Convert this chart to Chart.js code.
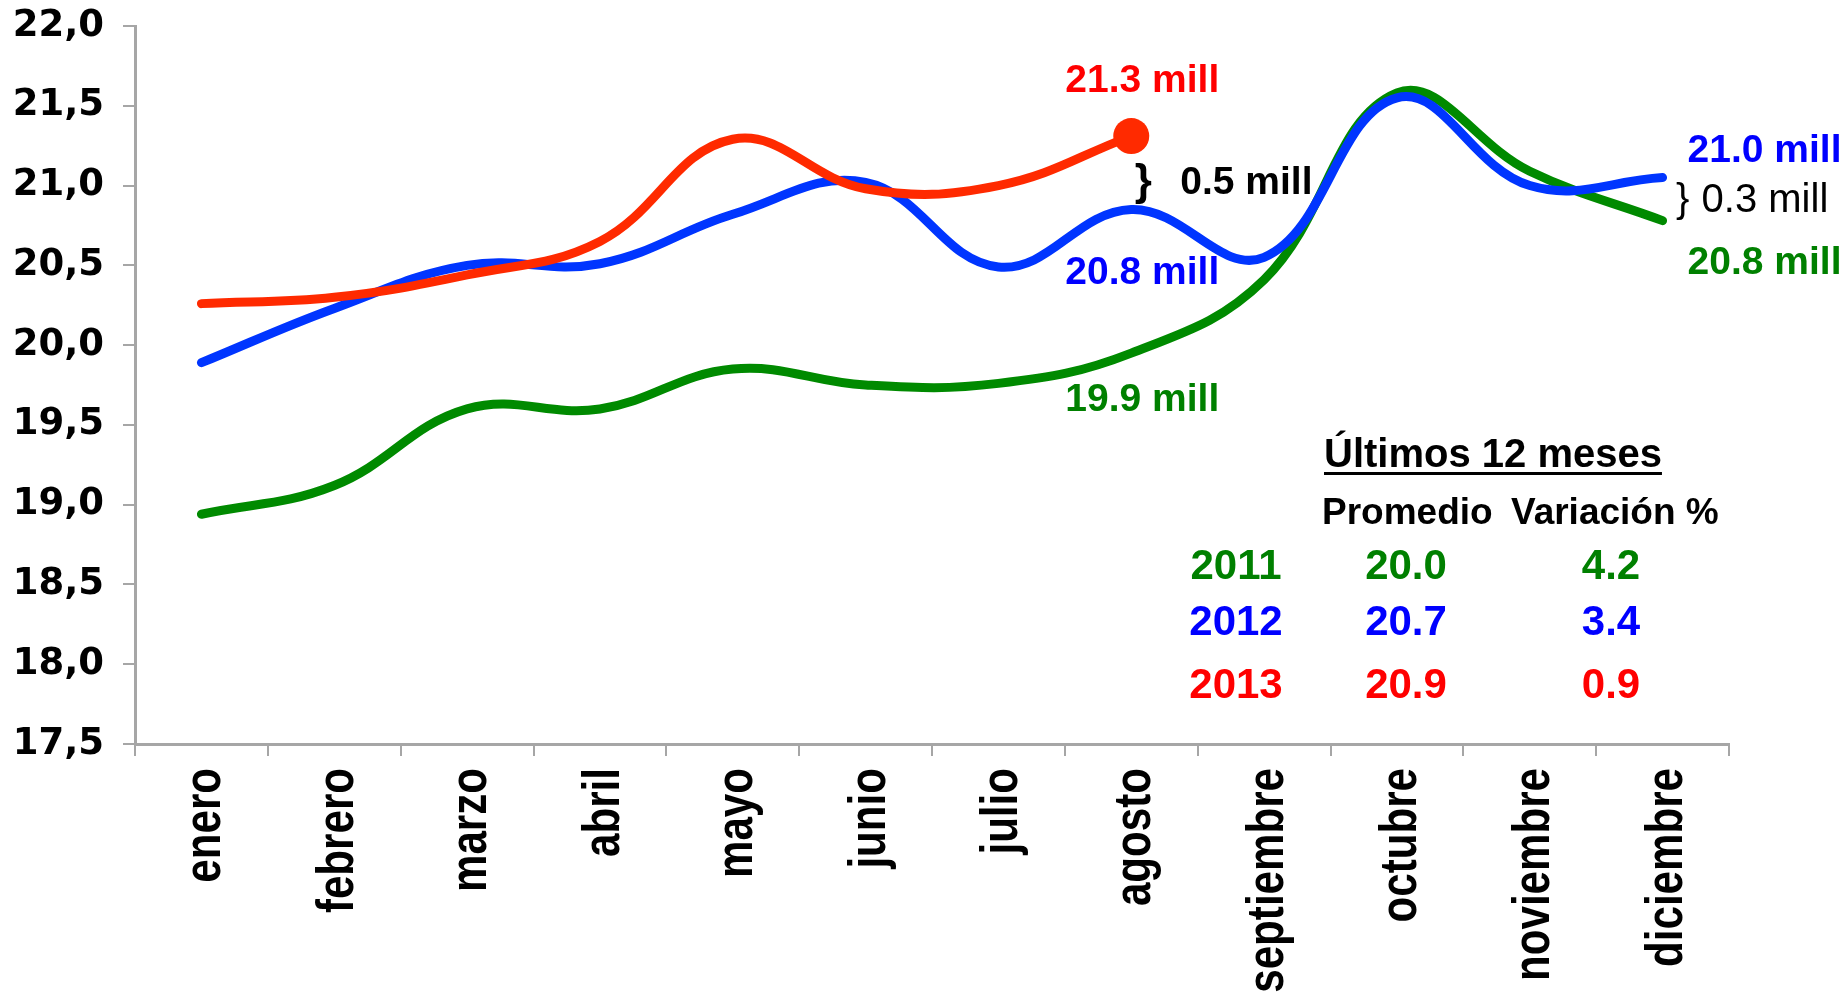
<!DOCTYPE html>
<html>
<head>
<meta charset="utf-8">
<script src="https://cdn.jsdelivr.net/npm/chart.js@4"></script>
<style>
  html, body { margin: 0; padding: 0; background: #fff; }
  #wrap { width: 1847px; height: 994px; position: relative; }
</style>
</head>
<body>
<div id="wrap"><canvas id="empleoChart"></canvas></div>
<script>
// valores (millones)
const months = ["enero", "febrero", "marzo", "abril", "mayo", "junio", "julio", "agosto", "septiembre", "octubre", "noviembre", "diciembre"];
const serie2011 = [18.94, 19.12, 19.60, 19.60, 19.85, 19.75, 19.76, 19.95, 20.41, 21.58, 21.09, 20.78];
const serie2012 = [19.89, 20.23, 20.50, 20.51, 20.82, 21.02, 20.49, 20.85, 20.55, 21.55, 21.00, 21.05];
const serie2013 = [20.26, 20.30, 20.44, 20.65, 21.29, 20.98, 21.00, 21.31];
const yTicks = [17.5, 18.0, 18.5, 19.0, 19.5, 20.0, 20.5, 21.0, 21.5, 22.0];

const tableYears = ["2011", "2012", "2013"];
const tablePromedio = ["20.0", "20.7", "20.9"];
const tableVariacion = ["4.2", "3.4", "0.9"];

const GREEN = "#008000", BLUE = "#0000ff", RED = "#ff0000";
const LINE_GREEN = "#008a00", LINE_BLUE = "#0035ff", LINE_RED = "#ff2a00";
const AXIS_GRAY = "#a6a6a6";

function text(ctx, str, x, y, font, color, align) {
    ctx.font = font;
    ctx.fillStyle = color;
    ctx.textAlign = align || "left";
    ctx.textBaseline = "middle";
    ctx.fillText(str, x, y);
}

// etiquetas del eje x: negrita estrecha, giradas
const monthLabelsPlugin = {
    id: "monthLabels",
    afterDraw(chart) {
        const ctx = chart.ctx;
        const xs = chart.scales.x;
        ctx.save();
        ctx.font = "bold 52px 'Liberation Sans', Arial, sans-serif";
        ctx.fillStyle = "#000";
        ctx.textAlign = "right";
        ctx.textBaseline = "alphabetic";
        months.forEach((m, i) => {
            ctx.save();
            ctx.translate(xs.getPixelForValue(i) + 19, xs.top + 24);
            ctx.rotate(-Math.PI / 2);
            ctx.scale(0.81, 1);
            ctx.fillText(m, 0, 0);
            ctx.restore();
        });
        ctx.restore();
    }
};

const annotationsPlugin = {
    id: "annotations",
    afterDatasetsDraw(chart) {
        const ctx = chart.ctx;
        const xs = chart.scales.x, ys = chart.scales.y;
        const bold = "bold 39px 'Liberation Sans', Arial, sans-serif";
        const ago = 7, dic = 11;
        const xa = xs.getPixelForValue(ago);
        ctx.save();

        // etiquetas agosto
        text(ctx, "21.3 mill", xa + 11, ys.getPixelForValue(serie2013[ago]) - 55, bold, RED, "center");
        text(ctx, "20.8 mill", xa + 11, ys.getPixelForValue(serie2012[ago]) + 64, bold, BLUE, "center");
        text(ctx, "19.9 mill", xa + 11, ys.getPixelForValue(serie2011[ago]) + 47, bold, GREEN, "center");
        const midA = (ys.getPixelForValue(serie2013[ago]) + ys.getPixelForValue(serie2012[ago])) / 2 + 10;
        text(ctx, "}", xa + 12, midA, "bold 44px 'Liberation Sans', Arial, sans-serif", "#000", "center");
        text(ctx, "0.5 mill", xa + 49, midA, bold, "#000", "left");

        // etiquetas diciembre
        const xd = xs.getPixelForValue(dic);
        text(ctx, "21.0 mill", xd + 25, ys.getPixelForValue(serie2012[dic]) - 26, bold, BLUE, "left");
        text(ctx, "20.8 mill", xd + 25, ys.getPixelForValue(serie2011[dic]) + 43, bold, GREEN, "left");
        const midD = (ys.getPixelForValue(serie2012[dic]) + ys.getPixelForValue(serie2011[dic])) / 2 + 2;
        text(ctx, "}", xd + 20, midD, "40px 'Liberation Sans', Arial, sans-serif", "#000", "center");
        text(ctx, "0.3 mill", xd + 39, midD, "40px 'Liberation Sans', Arial, sans-serif", "#000", "left");

        // tabla ultimos 12 meses
        const tFont = "bold 40px 'Liberation Sans', Arial, sans-serif";
        text(ctx, "Últimos 12 meses", 1324, 456, tFont, "#000", "left");
        ctx.font = tFont;
        const w = ctx.measureText("Últimos 12 meses").width;
        ctx.fillStyle = "#000";
        ctx.fillRect(1324, 472, w, 3);
        const hFont = "bold 37px 'Liberation Sans', Arial, sans-serif";
        text(ctx, "Promedio", 1322, 514, hFont, "#000", "left");
        text(ctx, "Variación %", 1511, 514, hFont, "#000", "left");
        const rowY = [567, 623, 686];
        const rowC = [GREEN, BLUE, RED];
        const vFont = "bold 42px 'Liberation Sans', Arial, sans-serif";
        for (let i = 0; i < tableYears.length; i++) {
            text(ctx, tableYears[i], 1236, rowY[i], vFont, rowC[i], "center");
            text(ctx, tablePromedio[i], 1406, rowY[i], vFont, rowC[i], "center");
            text(ctx, tableVariacion[i], 1611, rowY[i], vFont, rowC[i], "center");
        }
        ctx.restore();
    }
};

const redRadius = serie2013.map((v, i) => i === serie2013.length - 1 ? 18 : 0);

new Chart(document.getElementById("empleoChart"), {
    type: "line",
    data: {
        labels: months,
        datasets: [{
            label: "2013",
            data: serie2013,
            borderColor: LINE_RED,
            backgroundColor: LINE_RED,
            borderWidth: 9,
            tension: 0.4,
            pointRadius: redRadius,
            pointHoverRadius: redRadius,
            pointBorderWidth: 0,
            borderCapStyle: "round"
        }, {
            label: "2012",
            data: serie2012,
            borderColor: LINE_BLUE,
            borderWidth: 9,
            tension: 0.4,
            pointRadius: 0,
            borderCapStyle: "round"
        }, {
            label: "2011",
            data: serie2011,
            borderColor: LINE_GREEN,
            borderWidth: 9,
            tension: 0.4,
            pointRadius: 0,
            borderCapStyle: "round"
        }]
    },
    options: {
        responsive: true,
        maintainAspectRatio: false,
        animation: false,
        layout: { padding: { top: 26, right: 118, bottom: 0, left: 0 } },
        plugins: {
            legend: { display: false },
            tooltip: { enabled: false }
        },
        scales: {
            x: {
                offset: true,
                afterFit: s => { s.height = 250; },
                grid: {
                    offset: true,
                    drawOnChartArea: false,
                    tickLength: 12,
                    color: AXIS_GRAY,
                    lineWidth: 2
                },
                border: { color: AXIS_GRAY, width: 3 },
                ticks: { display: false }
            },
            y: {
                min: 17.5,
                max: 22,
                afterFit: s => { s.width = 135; s.paddingTop = 0; s.paddingBottom = 0; },
                afterBuildTicks: s => { s.ticks = yTicks.map(v => ({ value: v })); },
                grid: {
                    drawOnChartArea: false,
                    tickLength: 12,
                    color: AXIS_GRAY,
                    lineWidth: 2
                },
                border: { color: AXIS_GRAY, width: 3 },
                ticks: {
                    padding: 19,
                    color: "#000",
                    font: { family: "'DejaVu Sans', sans-serif", weight: "bold", size: 37 },
                    callback: v => v.toFixed(1).replace(".", ",")
                }
            }
        }
    },
    plugins: [annotationsPlugin, monthLabelsPlugin]
});
</script>
</body>
</html>
